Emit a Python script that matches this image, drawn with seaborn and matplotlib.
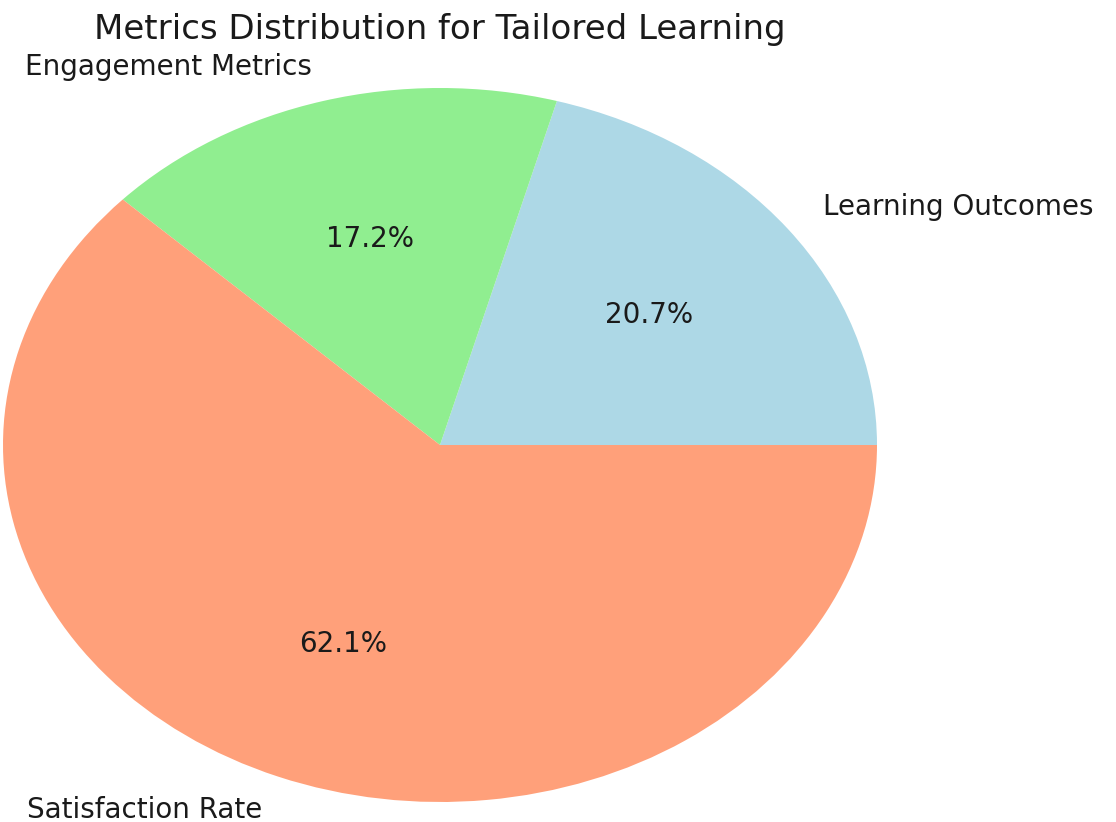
import matplotlib
matplotlib.use("Agg")
import matplotlib.pyplot as plt
import seaborn as sns

# Share of each metric in the tailored-learning evaluation
categories = ["Learning Outcomes", "Engagement Metrics", "Satisfaction Rate"]
values = [6, 5, 18]
colors = ["#add8e6", "#90ee90", "#ffa07a"]

sns.set_style("white")
plt.rcParams["font.family"] = ["DejaVu Sans"]

fig = plt.figure(figsize=(11.16, 8.22), dpi=100)
ax = fig.add_axes([3 / 1116, 20 / 822, 874 / 1116, 714 / 822])

wedges, texts, autotexts = ax.pie(
    values,
    labels=categories,
    colors=colors,
    autopct="%1.1f%%",
    startangle=0,
    labeldistance=1.1,
    pctdistance=0.6,
    wedgeprops={"linewidth": 0, "edgecolor": "none"},
    textprops={"fontsize": 20, "color": "#1a1a1a"},
)
# Stretch the pie to fill the axes box
ax.set_aspect("auto")
ax.set_xlim(-1, 1)
ax.set_ylim(-1, 1)

ax.set_title("Metrics Distribution for Tailored Learning", fontsize=24.5,
             color="#1a1a1a", pad=35)

fig.savefig("out.png", dpi=100, facecolor="white")
